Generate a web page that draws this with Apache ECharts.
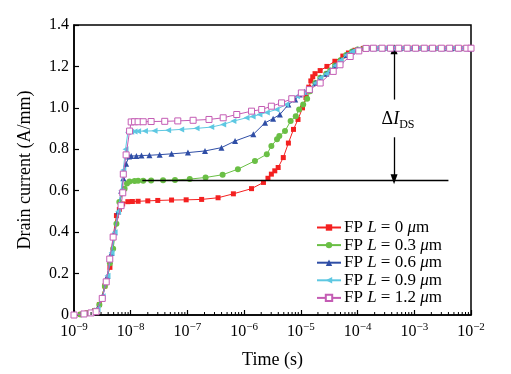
<!DOCTYPE html>
<html>
<head>
<meta charset="utf-8">
<script src="https://cdn.jsdelivr.net/npm/echarts@6/dist/echarts.min.js"></script>
<style>html,body{margin:0;padding:0;background:#fff;}#c{width:511px;height:374px;}</style>
</head>
<body>
<div id="c"></div>
<script>
// ---- data ----
const legendLengths = ['0', '0.3', '0.6', '0.9', '1.2'];
const xTickExponents = ['−9', '−8', '−7', '−6', '−5', '−4', '−3', '−2'];
const yTicks = [0, 0.2, 0.4, 0.6, 0.8, 1.0, 1.2, 1.4];

const fp0 = [[1.0e-9,0],[1.3e-9,0.003],[1.7e-9,0.01],[2.3e-9,0.02],[2.8e-9,0.05],[3.5e-9,0.14],[4.3e-9,0.23],[4.9e-9,0.38],[5.6e-9,0.48],[6.3e-9,0.51],[7.2e-9,0.536],[8.9e-9,0.547],[1.07e-8,0.548],[1.35e-8,0.549],[2.0e-8,0.551],[3.0e-8,0.553],[5.25e-8,0.555],[9.5e-8,0.556],[1.78e-7,0.558],[3.47e-7,0.566],[6.46e-7,0.585],[1.35e-6,0.61],[2.19e-6,0.64],[2.63e-6,0.66],[3.02e-6,0.68],[3.47e-6,0.696],[3.98e-6,0.712],[4.9e-6,0.76],[6.03e-6,0.83],[7.41e-6,0.896],[8.91e-6,0.944],[1.07e-5,1.0],[1.23e-5,1.05],[1.38e-5,1.1],[1.5e-5,1.13],[1.62e-5,1.15],[1.78e-5,1.165],[2.19e-5,1.18],[2.88e-5,1.2],[3.98e-5,1.225],[5.5e-5,1.25],[6.9e-5,1.265],[9.0e-5,1.278],[1.26e-4,1.287],[1.7e-4,1.288],[2.4e-4,1.288],[3.4e-4,1.288],[4.8e-4,1.288],[6.8e-4,1.288],[9.5e-4,1.288],[1.35e-3,1.288],[1.9e-3,1.288],[2.7e-3,1.288],[3.8e-3,1.288],[5.4e-3,1.288],[7.6e-3,1.288],[1.0e-2,1.288]];

const fp03 = [[1.0e-9,0],[1.3e-9,0.003],[1.7e-9,0.008],[2.3e-9,0.02],[2.8e-9,0.05],[3.5e-9,0.14],[4.3e-9,0.25],[4.9e-9,0.32],[5.6e-9,0.44],[6.3e-9,0.546],[7.8e-9,0.61],[8.6e-9,0.635],[9.55e-9,0.645],[1.17e-8,0.647],[1.35e-8,0.648],[1.66e-8,0.648],[2.29e-8,0.649],[3.72e-8,0.65],[6.03e-8,0.652],[1.1e-7,0.656],[2.09e-7,0.664],[4.17e-7,0.677],[7.76e-7,0.704],[1.55e-6,0.744],[2.51e-6,0.776],[3.02e-6,0.816],[3.8e-6,0.848],[4.17e-6,0.864],[5.25e-6,0.888],[6.6e-6,0.936],[8.13e-6,0.96],[9.33e-6,0.992],[1.1e-5,1.016],[1.29e-5,1.044],[1.45e-5,1.08],[1.8e-5,1.12],[2.2e-5,1.145],[2.8e-5,1.165],[3.3e-5,1.18],[4.0e-5,1.205],[5.0e-5,1.23],[6.3e-5,1.255],[8.0e-5,1.272],[1.0e-4,1.282],[1.3e-4,1.287],[1.8e-4,1.288],[2.5e-4,1.288],[3.6e-4,1.288],[5.0e-4,1.288],[7.1e-4,1.288],[1.0e-3,1.288],[1.4e-3,1.288],[2.0e-3,1.288],[2.8e-3,1.288],[4.0e-3,1.288],[5.6e-3,1.288],[8.0e-3,1.288],[1.0e-2,1.288]];

const fp06 = [[1.0e-9,0],[1.5e-9,0.005],[2.0e-9,0.01],[2.6e-9,0.03],[3.2e-9,0.09],[3.9e-9,0.19],[4.6e-9,0.3],[5.2e-9,0.4],[6.0e-9,0.5],[6.8e-9,0.6],[7.4e-9,0.66],[8.3e-9,0.73],[9.33e-9,0.765],[1.02e-8,0.768],[1.26e-8,0.768],[1.55e-8,0.77],[2.14e-8,0.771],[3.24e-8,0.774],[5.25e-8,0.778],[1.02e-7,0.784],[2.04e-7,0.792],[3.98e-7,0.808],[6.92e-7,0.84],[1.45e-6,0.872],[2.34e-6,0.928],[3.24e-6,0.948],[4.27e-6,0.968],[6.03e-6,1.016],[7.94e-6,1.04],[9.55e-6,1.064],[1.17e-5,1.078],[1.45e-5,1.09],[1.8e-5,1.12],[2.2e-5,1.145],[2.8e-5,1.165],[3.3e-5,1.18],[4.0e-5,1.205],[5.0e-5,1.23],[6.3e-5,1.255],[8.0e-5,1.272],[1.0e-4,1.282],[1.4e-4,1.287],[2.0e-4,1.288],[2.8e-4,1.288],[4.0e-4,1.288],[5.6e-4,1.288],[8.0e-4,1.288],[1.1e-3,1.288],[1.6e-3,1.288],[2.2e-3,1.288],[3.2e-3,1.288],[4.5e-3,1.288],[6.3e-3,1.288],[9.0e-3,1.288],[1.0e-2,1.288]];

const fp09 = [[1.0e-9,0],[1.5e-9,0.005],[2.0e-9,0.01],[2.6e-9,0.03],[3.2e-9,0.09],[3.9e-9,0.19],[4.6e-9,0.3],[5.2e-9,0.4],[6.0e-9,0.5],[6.8e-9,0.6],[7.4e-9,0.7],[8.1e-9,0.8],[8.91e-9,0.882],[1.02e-8,0.885],[1.17e-8,0.886],[1.35e-8,0.887],[1.78e-8,0.888],[2.63e-8,0.889],[4.57e-8,0.892],[7.76e-8,0.896],[1.45e-7,0.901],[2.63e-7,0.907],[4.27e-7,0.92],[6.46e-7,0.936],[1.1e-6,0.952],[1.41e-6,0.958],[1.86e-6,0.968],[2.51e-6,0.978],[3.72e-6,0.992],[5.5e-6,1.016],[8.5e-6,1.056],[1.12e-5,1.075],[1.45e-5,1.09],[1.8e-5,1.12],[2.2e-5,1.145],[2.8e-5,1.165],[3.3e-5,1.18],[4.0e-5,1.205],[5.0e-5,1.23],[6.3e-5,1.255],[8.0e-5,1.272],[1.0e-4,1.282],[1.5e-4,1.287],[2.1e-4,1.288],[3.0e-4,1.288],[4.2e-4,1.288],[6.0e-4,1.288],[8.5e-4,1.288],[1.2e-3,1.288],[1.7e-3,1.288],[2.4e-3,1.288],[3.4e-3,1.288],[4.8e-3,1.288],[6.8e-3,1.288],[9.5e-3,1.288]];

const fp12 = [[1.0e-9,0],[1.5e-9,0.005],[2.0e-9,0.01],[2.45e-9,0.016],[3.15e-9,0.08],[3.7e-9,0.16],[4.27e-9,0.27],[4.9e-9,0.376],[6.76e-9,0.528],[7.24e-9,0.59],[7.4e-9,0.68],[8.3e-9,0.773],[9.55e-9,0.888],[1.02e-8,0.932],[1.17e-8,0.933],[1.35e-8,0.933],[1.66e-8,0.933],[2.29e-8,0.934],[3.98e-8,0.935],[6.76e-8,0.937],[1.26e-7,0.94],[2.4e-7,0.944],[4.27e-7,0.952],[7.41e-7,0.968],[1.35e-6,0.984],[2.04e-6,0.992],[3.02e-6,1.008],[4.57e-6,1.024],[6.92e-6,1.044],[1.02e-5,1.072],[1.41e-5,1.088],[2.19e-5,1.12],[3.72e-5,1.176],[4.9e-5,1.208],[7.41e-5,1.248],[1.05e-4,1.275],[1.41e-4,1.287],[1.9e-4,1.288],[2.7e-4,1.288],[3.8e-4,1.288],[5.3e-4,1.288],[7.5e-4,1.288],[1.05e-3,1.288],[1.5e-3,1.288],[2.1e-3,1.288],[3.0e-3,1.288],[4.2e-3,1.288],[6.0e-3,1.288],[8.4e-3,1.288],[1.0e-2,1.288]];

// annotation values
const refLevel = 0.65;
const refStart = 1.6e-8, refEnd = 4.0e-3;
const arrowX = 4.4e-4;
const arrowUp = [1.04, 1.283];
const arrowDown = [0.858, 0.655];
const labelY = 0.944;

// ---- chart ----
const FONT = '"Liberation Serif", "Times New Roman", serif';
const chart = echarts.init(document.getElementById('c'), null, {renderer: 'canvas'});

const colors = ['#f42020', '#6abf45', '#2f4ea6', '#5ec8e2', '#c45cb4'];
const symbols = ['rect', 'circle', 'triangle', 'triangle', 'rect'];
const rotates = [0, 0, 0, 90, 0];
const sizes = [5, 6, 6, 6, 6];
const datas = [fp0, fp03, fp06, fp09, fp12];

function legendName(l) { return 'FP L = ' + l + ' μm'; }

const minorTicks = [];
for (let e = -9; e < -2; e++) {
  for (let m = 2; m <= 9; m++) minorTicks.push(m * Math.pow(10, e));
}

const series = datas.map((d, i) => ({
  name: legendName(legendLengths[i]),
  type: 'line',
  data: d,
  symbol: symbols[i],
  symbolSize: sizes[i],
  symbolRotate: rotates[i],
  showAllSymbol: true,
  lineStyle: {color: colors[i], width: 1},
  itemStyle: {color: i === 4 ? '#ffffff' : colors[i], borderColor: colors[i], borderWidth: i === 4 ? 1 : 0},
  z: 3 + i,
  animation: false
}));

series.push({
  type: 'line',
  data: [],
  silent: true,
  markLine: {
    silent: true,
    animation: false,
    symbol: ['none', 'none'],
    label: {show: false},
    lineStyle: {color: '#000', width: 1.3, type: 'solid'},
    data: [
      [{coord: [refStart, refLevel]}, {coord: [refEnd, refLevel]}],
      [{coord: [arrowX, arrowUp[0]], symbol: 'none'}, {coord: [arrowX, arrowUp[1]], symbol: 'triangle', symbolSize: [7, 10]}],
      [{coord: [arrowX, arrowDown[0]], symbol: 'none'}, {coord: [arrowX, arrowDown[1]], symbol: 'triangle', symbolSize: [7, 10], symbolRotate: 180}]
    ]
  },
  markPoint: {
    silent: true,
    animation: false,
    symbol: 'circle',
    symbolSize: 0,
    data: [{coord: [arrowX, labelY]}],
    label: {
      show: true,
      position: 'inside',
      offset: [4, 0],
      formatter: '{d|Δ}{i|I}{s|DS}',
      rich: {
        d: {fontFamily: FONT, fontSize: 18, color: '#000'},
        i: {fontFamily: FONT, fontSize: 18, fontStyle: 'italic', color: '#000'},
        s: {fontFamily: FONT, fontSize: 12, color: '#000', padding: [10, 0, 0, 0]}
      }
    }
  }
});

series.push({
  type: 'custom',
  silent: true,
  data: minorTicks.map(v => [v, 0]),
  renderItem: function (params, api) {
    const p = api.coord([api.value(0), 0]);
    return {type: 'line', shape: {x1: p[0], y1: p[1], x2: p[0], y2: p[1] - 3}, style: {stroke: '#000', lineWidth: 1}};
  },
  clip: false,
  z: 10,
  animation: false
});

chart.setOption({
  animation: false,
  backgroundColor: '#fff',
  grid: {left: 74, right: 40, top: 25, bottom: 57, show: true, borderColor: '#000', borderWidth: 1.5, containLabel: false},
  legend: {
    orient: 'vertical',
    left: 316,
    top: 219,
    itemWidth: 24,
    itemHeight: 8,
    itemGap: 0.6,
    padding: 0,
    data: series.slice(0, 5).map(s => s.name),
    formatter: function (name) {
      const l = name.replace('FP L = ', '').replace(' μm', '');
      return '{a|FP }{i|L}{a| = ' + l + ' }{i|μ}{a|m}';
    },
    textStyle: {
      fontFamily: FONT, fontSize: 17, color: '#000', lineHeight: 14, padding: [0, 0, 0, -2],
      rich: {
        a: {fontFamily: FONT, fontSize: 17, lineHeight: 14, color: '#000'},
        i: {fontFamily: FONT, fontSize: 17, lineHeight: 14, fontStyle: 'italic', color: '#000'}
      }
    }
  },
  xAxis: {
    type: 'log',
    logBase: 10,
    min: 1e-9,
    max: 1e-2,
    name: 'Time (s)',
    nameLocation: 'middle',
    nameGap: 36,
    nameTextStyle: {fontFamily: FONT, fontSize: 18, color: '#000'},
    axisLine: {lineStyle: {color: '#000', width: 1.5}},
    axisTick: {inside: true, length: 5, lineStyle: {color: '#000', width: 1.2}},
    splitLine: {show: false},
    axisLabel: {
      margin: 7,
      color: '#000',
      formatter: function (v) {
        const e = Math.round(Math.log10(v));
        return '{b|10}{s|' + xTickExponents[e + 9] + '}';
      },
      rich: {
        b: {fontFamily: FONT, fontSize: 16, color: '#000'},
        s: {fontFamily: FONT, fontSize: 11, color: '#000', padding: [0, 0, 9, 0]}
      }
    }
  },
  yAxis: {
    type: 'value',
    min: 0,
    max: 1.4,
    interval: 0.2,
    name: 'Drain current (A/mm)',
    nameLocation: 'middle',
    nameGap: 40,
    nameTextStyle: {fontFamily: FONT, fontSize: 18, color: '#000'},
    axisLine: {show: true, lineStyle: {color: '#000', width: 1.5}},
    axisTick: {show: true, inside: true, length: 5, lineStyle: {color: '#000', width: 1.2}},
    splitLine: {show: false},
    axisLabel: {
      margin: 5,
      fontFamily: FONT,
      fontSize: 16,
      color: '#000',
      formatter: function (v) {
        const t = yTicks.find(x => Math.abs(x - v) < 1e-9);
        return t === 0 ? '0' : (t !== undefined ? t.toFixed(1) : '');
      }
    }
  },
  series: series
});
</script>
</body>
</html>
